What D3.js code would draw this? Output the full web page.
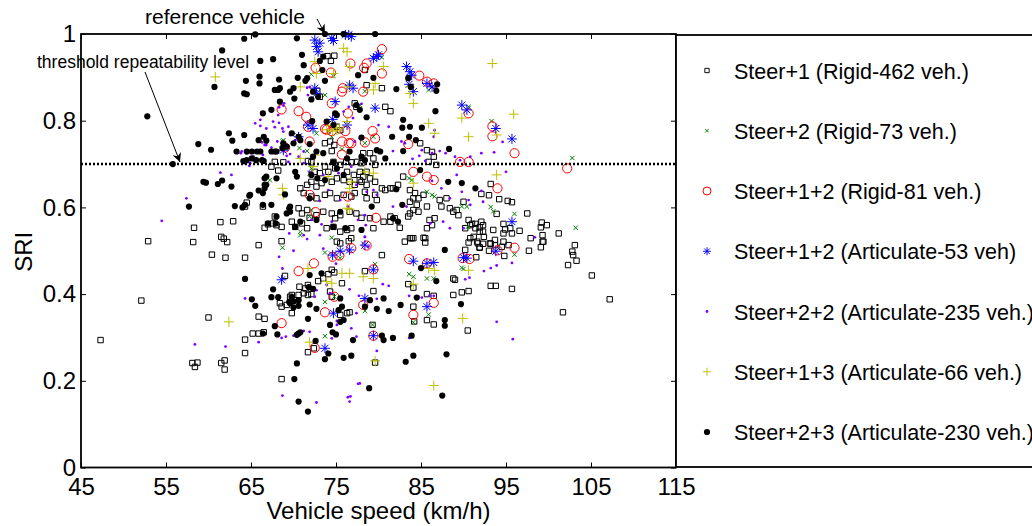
<!DOCTYPE html>
<html>
<head>
<meta charset="utf-8">
<script src="https://cdn.jsdelivr.net/npm/d3@7"></script>
<style>
  body { margin: 0; background: #fff; }
  svg { display: block; font-family: "Liberation Sans", Arial, sans-serif; }
  .axis text { font-size: 24px; fill: #000; }
  .axis line { stroke: #000; }
</style>
</head>
<body>
<div id="chart"></div>
<script>
// x ticks, y ticks
const xTicks = [45, 55, 65, 75, 85, 95, 105, 115];
const yTicks = [0, 0.2, 0.4, 0.6, 0.8, 1];
const threshold = 0.7;

const legendLabels = [
  'Steer+1 (Rigid-462 veh.)',
  'Steer+2 (Rigid-73 veh.)',
  'Steer+1+2 (Rigid-81 veh.)',
  'Steer+1+2 (Articulate-53 veh)',
  'Steer+2+2 (Articulate-235 veh.)',
  'Steer+1+3 (Articulate-66 veh.)',
  'Steer+2+3 (Articulate-230 veh.)'
];

// [speed km/h, SRI]
const steer1Rigid = [
  [47.3,0.294],[52.1,0.385],[52.9,0.522],[58.2,0.520],[58.3,0.553],[58.1,0.241],[58.4,0.232],[58.7,0.242],[60.0,0.346],[60.4,0.491],
  [61.4,0.566],[61.5,0.532],[61.8,0.528],[62.2,0.520],[62.0,0.484],[61.5,0.241],[61.9,0.247],[61.9,0.226],[62.9,0.568],[64.3,0.484],
  [64.3,0.295],[64.3,0.264],[64.5,0.611],[64.3,0.602],[65.2,0.309],[65.9,0.309],[66.5,0.312],[65.9,0.348],[66.6,0.343],[65.9,0.513],
  [66.4,0.602],[66.6,0.553],[67.0,0.561],[67.6,0.563],[68.0,0.559],[67.8,0.579],[68.6,0.555],[68.6,0.522],[67.4,0.694],[67.8,0.705],
  [68.2,0.685],[68.8,0.704],[68.6,0.204],[69.0,0.442],[68.4,0.379],[68.6,0.371],[69.2,0.375],[69.8,0.398],[69.6,0.394],[70.2,0.386],
  [69.8,0.356],[70.7,0.417],[71.4,0.413],[71.7,0.421],[72.1,0.400],[71.7,0.398],[71.2,0.402],[70.6,0.398],[71.7,0.266],[72.4,0.275],
  [72.9,0.430],[73.5,0.436],[74.1,0.446],[74.5,0.456],[74.8,0.450],[74.3,0.406],[74.5,0.394],[75.5,0.352],[76.3,0.356],[76.6,0.358],
  [75.7,0.425],[75.1,0.521],[75.5,0.517],[76.5,0.522],[76.8,0.529],[69.8,0.567],[70.2,0.555],[71.0,0.563],[71.6,0.552],[73.9,0.552],
  [74.7,0.555],[75.5,0.544],[76.3,0.548],[76.8,0.552],[70.6,0.598],[71.0,0.586],[71.6,0.594],[71.9,0.576],[72.7,0.582],[73.5,0.590],
  [74.5,0.586],[74.9,0.575],[75.5,0.582],[76.6,0.590],[77.4,0.586],[78.0,0.576],[71.2,0.633],[72.1,0.625],[72.7,0.621],[73.7,0.629],
  [74.3,0.633],[75.1,0.621],[75.9,0.629],[76.8,0.625],[77.2,0.633],[70.8,0.644],[71.6,0.652],[72.1,0.659],[72.7,0.648],[73.3,0.656],
  [74.5,0.659],[75.1,0.667],[75.9,0.663],[76.6,0.659],[77.2,0.652],[77.8,0.663],[72.5,0.682],[73.1,0.679],[74.1,0.682],[74.9,0.690],
  [76.3,0.682],[77.1,0.675],[77.8,0.682],[73.7,0.694],[74.7,0.705],[75.5,0.698],[76.2,0.705],[76.8,0.704],[77.5,0.705],[78.0,0.702],
  [71.7,0.707],[72.1,0.704],[73.7,0.748],[74.3,0.752],[74.8,0.744],[74.5,0.730],[75.1,0.786],[75.5,0.778],[77.2,0.840],[77.4,0.832],
  [72.8,0.869],[73.1,0.855],[74.0,0.949],[74.4,0.938],[74.8,0.950],[78.4,0.917],[78.6,0.882],[80.4,0.875],[80.8,0.832],[81.4,0.822],
  [78.2,0.725],[79.0,0.725],[79.4,0.713],[79.6,0.698],[78.6,0.682],[78.2,0.671],[79.0,0.667],[79.6,0.659],[78.0,0.659],[78.6,0.652],
  [80.4,0.644],[80.8,0.640],[81.4,0.644],[81.7,0.644],[82.3,0.652],[82.9,0.671],[83.7,0.640],[84.1,0.621],[78.4,0.636],[78.6,0.621],
  [79.8,0.617],[79.6,0.629],[84.3,0.633],[84.7,0.621],[85.3,0.629],[85.7,0.602],[84.5,0.606],[84.1,0.594],[84.7,0.590],[83.7,0.613],
  [87.4,0.602],[88.4,0.598],[89.2,0.594],[89.4,0.582],[88.8,0.590],[90.0,0.613],[87.2,0.617],[88.0,0.621],[84.9,0.748],[85.7,0.732],
  [86.3,0.728],[86.5,0.717],[85.9,0.705],[86.8,0.698],[83.7,0.586],[82.5,0.553],[81.4,0.579],[81.9,0.575],[81.4,0.567],[80.6,0.567],
  [79.0,0.575],[79.4,0.552],[83.5,0.579],[86.6,0.575],[86.0,0.571],[86.3,0.559],[85.7,0.552],[85.3,0.530],[83.9,0.529],[85.5,0.529],
  [90.6,0.571],[90.2,0.552],[91.4,0.552],[90.8,0.559],[91.9,0.544],[92.3,0.559],[83.1,0.521],[83.7,0.529],[84.1,0.529],[85.5,0.519],
  [90.8,0.529],[90.6,0.519],[91.7,0.517],[91.9,0.507],[80.4,0.490],[90.2,0.502],[78.4,0.453],[88.8,0.436],[83.5,0.423],[84.1,0.415],
  [79.4,0.407],[85.7,0.400],[86.5,0.396],[88.8,0.398],[89.8,0.404],[90.6,0.407],[84.1,0.371],[85.7,0.340],[86.5,0.330],[90.5,0.316],
  [79.3,0.329],[79.6,0.242],[84.2,0.337],[89.0,0.433],[93.2,0.654],[92.1,0.631],[94.2,0.619],[95.2,0.615],[95.7,0.612],[93.9,0.585],
  [97.5,0.586],[99.2,0.565],[99.8,0.559],[99.1,0.554],[96.6,0.546],[101.2,0.540],[99.3,0.536],[97.9,0.529],[99.3,0.521],[99.1,0.508],
  [103.1,0.513],[91.0,0.562],[91.4,0.562],[92.1,0.567],[91.9,0.554],[92.3,0.544],[92.4,0.532],[91.2,0.532],[91.6,0.521],[92.3,0.516],
  [93.1,0.517],[93.7,0.525],[93.5,0.548],[94.7,0.562],[94.9,0.549],[95.5,0.552],[95.7,0.540],[94.7,0.540],[94.7,0.521],[95.3,0.513],
  [93.7,0.513],[91.9,0.508],[93.2,0.516],[93.0,0.500],[94.5,0.509],[94.8,0.488],[97.7,0.500],[99.4,0.521],[102.8,0.498],[102.9,0.490],
  [103.3,0.477],[102.3,0.467],[105.1,0.443],[93.2,0.419],[93.8,0.419],[95.7,0.412],[107.2,0.388],[101.7,0.358],[91.5,0.485],[93.0,0.628]
];

const steer2Rigid = [
  [102.8,0.714],[103.2,0.553],[93.3,0.799],[90.6,0.832],[85.9,0.871],[86.3,0.878],[80.4,0.946],[78.4,0.868],[74.7,0.903],[72.1,0.907],
  [73.7,0.859],[74.1,0.775],[72.7,0.771],[68.8,0.755],[77.8,0.836],[72.1,0.690],[71.9,0.679],[67.2,0.663],[72.1,0.594],[71.9,0.579],
  [70.8,0.544],[74.5,0.763],[71.6,0.730],[75.7,0.734],[78.4,0.748],[79.4,0.763],[83.9,0.663],[85.7,0.636],[86.3,0.629],[86.6,0.625],
  [89.8,0.602],[90.4,0.602],[90.5,0.555],[93.2,0.601],[93.5,0.591],[96.0,0.585],[96.0,0.491],[68.7,0.507],[70.8,0.536],[73.7,0.496],
  [75.5,0.483],[74.5,0.530],[74.8,0.394],[73.7,0.382],[73.7,0.303],[79.6,0.469],[83.6,0.446],[84.1,0.440],[85.7,0.436],[86.5,0.436],
  [89.8,0.461],[78.4,0.361],[84.1,0.335],[79.3,0.329],[85.9,0.353],[83.6,0.667],[90.0,0.458],[70.7,0.737],[68.7,0.752]
];

const steer12Rigid = [
  [68.6,0.826],[70.6,0.822],[71.5,0.809],[71.7,0.786],[73.7,0.781],[71.9,0.752],[69.0,0.738],[72.6,0.922],[74.4,0.911],[76.7,0.932],
  [78.3,0.922],[75.8,0.875],[75.7,0.867],[74.5,0.840],[78.2,0.867],[76.4,0.817],[76.1,0.776],[75.7,0.752],[76.5,0.748],[76.8,0.748],
  [75.7,0.722],[71.9,0.629],[76.4,0.625],[72.6,0.589],[72.4,0.471],[70.6,0.453],[68.6,0.333],[73.7,0.358],[74.8,0.394],[72.5,0.276],
  [74.6,0.486],[75.4,0.489],[76.8,0.506],[78.6,0.512],[78.2,0.375],[83.6,0.481],[85.7,0.471],[89.9,0.483],[79.4,0.457],[86.5,0.380],
  [84.1,0.352],[79.4,0.304],[80.4,0.965],[78.6,0.932],[80.4,0.909],[84.8,0.904],[85.7,0.890],[86.5,0.886],[90.6,0.817],[79.3,0.776],
  [79.6,0.759],[78.4,0.750],[83.5,0.746],[89.6,0.705],[90.6,0.705],[84.1,0.682],[85.7,0.671],[86.5,0.663],[79.7,0.576],[93.4,0.787],
  [93.4,0.764],[94.0,0.644],[94.0,0.501],[96.0,0.725],[96.0,0.507],[102.2,0.690],[90.7,0.481],[73.9,0.779],[74.5,0.776]
];

const steer12Artic = [
  [72.5,0.986],[72.7,0.971],[72.9,0.959],[73.1,0.979],[74.5,0.990],[74.7,0.985],[76.1,0.998],[76.5,0.998],[76.8,0.994],[76.6,0.882],
  [77.0,0.875],[72.5,0.875],[72.7,0.863],[74.9,0.844],[71.7,0.790],[72.3,0.782],[70.6,0.763],[68.8,0.732],[76.3,0.790],[79.4,0.944],
  [79.8,0.948],[80.0,0.952],[83.3,0.925],[83.7,0.913],[83.9,0.905],[83.6,0.884],[84.1,0.867],[85.7,0.886],[86.3,0.878],[79.6,0.829],
  [89.8,0.836],[90.4,0.825],[68.6,0.433],[74.7,0.356],[73.7,0.275],[74.6,0.490],[75.5,0.499],[76.6,0.502],[78.4,0.513],[79.4,0.456],
  [84.1,0.476],[85.7,0.471],[86.5,0.473],[90.4,0.483],[90.0,0.484],[78.4,0.390],[85.7,0.371],[79.4,0.304],[93.8,0.782],[95.7,0.758],
  [95.7,0.567],[93.8,0.499],[74.6,0.803]
];

const steer22Artic = [
  [54.5,0.569],[57.4,0.621],[59.8,0.657],[61.4,0.680],[62.7,0.675],[63.8,0.725],[64.8,0.696],[65.3,0.717],[66.4,0.721],[66.8,0.744],
  [67.4,0.738],[68.9,0.840],[68.3,0.831],[68.3,0.795],[68.7,0.782],[69.4,0.786],[66.1,0.788],[66.8,0.782],[67.8,0.785],[64.2,0.702],
  [64.9,0.702],[68.3,0.486],[68.7,0.459],[64.3,0.390],[68.6,0.299],[69.1,0.302],[58.4,0.284],[62.0,0.279],[65.9,0.289],[68.7,0.166],
  [71.6,0.527],[72.7,0.409],[72.5,0.394],[73.9,0.421],[74.3,0.402],[76.6,0.411],[77.7,0.396],[75.1,0.338],[75.1,0.329],[74.9,0.307],
  [70.0,0.304],[71.2,0.315],[71.9,0.313],[72.7,0.150],[77.6,0.193],[76.4,0.162],[76.6,0.152],[77.4,0.302],[76.8,0.321],[74.5,0.298],
  [77.4,0.356],[78.4,0.532],[78.8,0.509],[80.5,0.423],[81.2,0.419],[79.8,0.389],[83.6,0.396],[84.7,0.394],[85.1,0.392],[86.0,0.396],
  [86.5,0.396],[83.6,0.299],[79.8,0.269],[90.2,0.434],[90.7,0.438],[92.4,0.453],[77.8,0.194],[68.8,0.835],[68.2,0.813],[65.5,0.794],
  [66.1,0.802],[68.8,0.775],[69.6,0.767],[70.2,0.755],[71.6,0.876],[71.9,0.878],[67.6,0.798],[68.1,0.752],[66.3,0.750],[66.6,0.744],
  [63.9,0.729],[64.5,0.725],[69.2,0.719],[69.6,0.723],[70.6,0.717],[71.2,0.729],[69.4,0.705],[71.2,0.702],[71.7,0.859],[72.1,0.848],
  [71.4,0.890],[75.9,0.821],[76.5,0.832],[77.0,0.806],[77.2,0.752],[77.8,0.759],[71.9,0.682],[73.5,0.675],[75.3,0.679],[76.8,0.694],
  [74.1,0.640],[77.4,0.652],[73.1,0.615],[75.5,0.617],[76.4,0.602],[72.1,0.571],[73.3,0.561],[74.5,0.567],[77.6,0.571],[71.2,0.536],
  [73.1,0.536],[78.0,0.839],[81.2,0.786],[80.0,0.790],[86.6,0.778],[86.5,0.763],[82.7,0.752],[83.1,0.748],[81.7,0.730],[85.1,0.732],
  [86.3,0.725],[87.2,0.730],[87.9,0.725],[89.0,0.717],[89.6,0.709],[90.8,0.717],[84.8,0.719],[84.0,0.712],[85.5,0.707],[92.1,0.725],
  [86.3,0.661],[87.4,0.644],[88.4,0.621],[89.2,0.675],[89.8,0.636],[90.6,0.617],[90.8,0.606],[92.1,0.638],[78.6,0.636],[79.4,0.640],
  [79.8,0.629],[78.4,0.582],[78.5,0.559],[81.7,0.602],[83.3,0.602],[86.1,0.563],[87.6,0.567],[88.4,0.552],[90.0,0.552],[78.4,0.532],
  [93.6,0.727],[94.6,0.751],[95.0,0.682],[92.3,0.613],[98.4,0.531],[93.2,0.460],[93.9,0.466],[95.7,0.472],[93.9,0.336],[95.8,0.296],
  [83.7,0.300],[76.7,0.164],[70.0,0.500],[69.5,0.540],[73.5,0.505],[75.0,0.470]
];

const steer13Artic = [
  [60.8,0.901],[62.4,0.336],[93.4,0.932],[95.9,0.815],[90.6,0.763],[93.9,0.767],[93.9,0.675],[90.6,0.455],[89.9,0.344],[86.5,0.189],
  [79.6,0.246],[71.9,0.289],[68.7,0.644],[68.8,0.629],[75.9,0.967],[76.3,0.959],[72.5,0.936],[72.7,0.909],[70.8,0.878],[76.6,0.925],
  [74.7,0.909],[76.4,0.878],[74.5,0.790],[75.1,0.778],[76.3,0.798],[70.8,0.713],[72.3,0.694],[76.8,0.659],[76.6,0.644],[76.3,0.598],
  [76.6,0.596],[72.5,0.721],[74.1,0.671],[80.6,0.925],[79.6,0.886],[79.4,0.871],[83.7,0.863],[84.1,0.840],[85.9,0.794],[86.6,0.771],
  [89.8,0.806],[78.4,0.682],[79.4,0.679],[84.1,0.656],[71.7,0.459],[73.9,0.429],[74.5,0.425],[75.7,0.448],[76.6,0.448],[78.2,0.440],
  [79.4,0.436],[85.9,0.459],[86.6,0.455],[84.1,0.423],[73.9,0.779],[74.6,0.776],[75.4,0.783],[83.7,0.878]
];

const steer23Artic = [
  [52.8,0.810],[55.8,0.700],[57.7,0.602],[58.8,0.746],[59.4,0.659],[59.7,0.657],[60.3,0.733],[60.7,0.878],[61.6,0.962],[61.1,0.654],
  [61.6,0.662],[62.4,0.771],[62.8,0.754],[62.7,0.648],[63.1,0.603],[64.0,0.600],[63.3,0.729],[64.2,0.767],[64.2,0.863],[64.2,0.989],
  [64.4,0.892],[64.5,0.861],[65.5,0.999],[66.1,0.938],[66.0,0.886],[66.0,0.902],[66.4,0.817],[67.4,0.825],[66.5,0.763],[66.8,0.754],
  [65.9,0.755],[64.5,0.729],[65.1,0.729],[65.7,0.729],[66.1,0.729],[67.4,0.729],[67.8,0.729],[68.0,0.729],[66.3,0.709],[65.6,0.709],
  [65.1,0.713],[64.5,0.709],[64.1,0.707],[66.5,0.707],[64.8,0.627],[65.9,0.639],[66.4,0.633],[66.6,0.652],[66.8,0.671],[67.4,0.606],
  [66.4,0.606],[68.0,0.579],[67.0,0.563],[67.9,0.563],[67.6,0.942],[67.8,0.871],[68.2,0.871],[68.4,0.875],[68.3,0.895],[68.4,0.844],
  [68.7,0.737],[68.8,0.748],[69.2,0.740],[69.8,0.771],[70.0,0.748],[70.6,0.763],[70.8,0.755],[70.0,0.875],[69.6,0.867],[70.1,0.851],
  [70.5,0.899],[71.0,0.952],[71.2,0.928],[71.6,0.898],[71.4,0.892],[72.3,0.867],[72.9,0.855],[72.1,0.849],[72.2,0.799],[71.9,0.746],
  [73.1,0.938],[73.5,0.948],[73.4,0.917],[73.7,0.892],[70.4,0.990],[73.7,1.000],[75.9,1.000],[79.6,1.000],[75.1,0.813],[74.7,0.790],
  [73.9,0.798],[74.9,0.817],[76.3,0.713],[76.6,0.729],[74.7,0.704],[72.3,0.717],[72.7,0.729],[73.5,0.725],[77.6,0.905],[77.4,0.836],
  [77.8,0.825],[70.2,0.682],[70.4,0.671],[72.1,0.675],[72.8,0.667],[73.7,0.663],[68.0,0.667],[66.6,0.667],[66.8,0.652],[66.6,0.644],
  [64.9,0.629],[64.3,0.606],[69.6,0.602],[71.9,0.621],[69.6,0.590],[70.8,0.567],[72.7,0.571],[75.5,0.590],[76.1,0.552],[74.7,0.555],
  [70.2,0.555],[75.9,0.675],[75.1,0.690],[69.0,0.630],[69.2,0.586],[69.5,0.598],
  [64.3,0.435],[67.6,0.411],[67.4,0.393],[68.2,0.393],[65.1,0.388],[65.5,0.373],[69.5,0.382],[69.8,0.393],[70.0,0.383],[69.6,0.379],
  [70.6,0.386],[70.6,0.373],[70.0,0.369],[71.9,0.376],[72.7,0.366],[71.7,0.343],[71.9,0.444],[73.3,0.448],[71.8,0.416],[72.3,0.412],
  [67.8,0.326],[68.1,0.307],[66.4,0.309],[70.6,0.309],[70.8,0.312],[70.4,0.306],[72.6,0.292],[74.1,0.263],[73.7,0.250],[70.4,0.240],
  [70.1,0.204],[70.6,0.152],[71.7,0.129],[74.3,0.329],[74.6,0.312],[75.0,0.307],[75.5,0.336],[75.9,0.340],[75.5,0.390],[75.7,0.371],
  [75.3,0.363],[75.9,0.253],[76.8,0.258],[77.0,0.294],[87.8,0.502],[85.0,0.460],[86.8,0.430],[84.5,0.392],[82.6,0.375],[81.2,0.361],
  [79.8,0.366],[80.6,0.390],[78.4,0.371],[80.4,0.304],[80.6,0.294],[81.7,0.299],[83.9,0.304],[84.1,0.258],[83.2,0.244],[88.0,0.261],
  [87.5,0.166],[78.9,0.183],[87.8,0.340],[87.8,0.327],[89.7,0.377],[79.0,0.386],
  [79.4,0.899],[82.1,0.873],[83.5,0.898],[83.8,0.878],[86.9,0.884],[86.8,0.869],[86.7,0.822],[78.6,0.808],[82.9,0.802],[82.8,0.784],
  [83.7,0.786],[85.1,0.784],[81.6,0.763],[83.6,0.763],[84.4,0.755],[82.9,0.730],[78.0,0.761],[88.3,0.735],[84.9,0.686],[89.8,0.656],
  [82.1,0.642],[88.2,0.659],[91.4,0.644],[79.2,0.602],[78.0,0.548],[81.7,0.575],[82.3,0.567],[82.8,0.606],[79.8,0.732],[80.2,0.729],
  [80.8,0.713],[78.4,0.709],[78.0,0.717]
];

// marker shapes, drawn at (0,0)
const markers = {
  square:   { d: 'M-2.7,-2.7h5.4v5.4h-5.4Z', fill: 'none', stroke: '#000' },
  cross:    { d: 'M-2.2,-2.2L2.2,2.2M-2.2,2.2L2.2,-2.2', fill: 'none', stroke: '#008000' },
  circle:   { r: 4.6, fill: 'none', stroke: '#ff0000' },
  asterisk: { d: 'M-5,0H5M0,-5V5M-3.5,-3.5L3.5,3.5M-3.5,3.5L3.5,-3.5', fill: 'none', stroke: '#0000ff' },
  point:    { r: 1.4, fill: '#7f00ff', stroke: 'none' },
  plus:     { d: 'M-5,0H5M0,-5V5', fill: 'none', stroke: '#bfbf00' },
  dot:      { r: 3.1, fill: '#000', stroke: 'none' }
};

const series = [
  { data: steer1Rigid,  marker: 'square' },
  { data: steer2Rigid,  marker: 'cross' },
  { data: steer12Rigid, marker: 'circle' },
  { data: steer12Artic, marker: 'asterisk' },
  { data: steer22Artic, marker: 'point' },
  { data: steer13Artic, marker: 'plus' },
  { data: steer23Artic, marker: 'dot' }
];

const W = 1032, H = 526;
const plot = { left: 81, right: 676, top: 34, bottom: 467.5 };

const svg = d3.select('#chart').append('svg').attr('width', W).attr('height', H);

svg.append('defs').append('marker')
    .attr('id', 'arrow')
    .attr('viewBox', '0 0 10 10')
    .attr('refX', 10).attr('refY', 5)
    .attr('markerWidth', 11).attr('markerHeight', 9)
    .attr('markerUnits', 'userSpaceOnUse')
    .attr('orient', 'auto')
  .append('path')
    .attr('d', 'M0,0L10,5L0,10L3,5Z')
    .attr('fill', '#000');

const x = d3.scaleLinear().domain([45, 115]).range([plot.left, plot.right]);
const y = d3.scaleLinear().domain([0, 1]).range([plot.bottom, plot.top]);

// axes with inward ticks
const xAxis = svg.append('g').attr('class', 'axis')
  .attr('transform', `translate(0,${plot.bottom})`)
  .call(d3.axisBottom(x).tickValues(xTicks).tickSize(-5).tickPadding(10).tickFormat(d3.format('d')));
xAxis.select('.domain').remove();

const yAxis = svg.append('g').attr('class', 'axis')
  .attr('transform', `translate(${plot.left},0)`)
  .call(d3.axisLeft(y).tickValues(yTicks).tickSize(-5).tickPadding(5).tickFormat(d => d3.format('~g')(d)));
yAxis.select('.domain').remove();

svg.append('g').attr('class', 'axis')
  .attr('transform', `translate(0,${plot.top})`)
  .call(d3.axisTop(x).tickValues(xTicks).tickSize(-5).tickFormat(''))
  .select('.domain').remove();

svg.append('g').attr('class', 'axis')
  .attr('transform', `translate(${plot.right},0)`)
  .call(d3.axisRight(y).tickValues(yTicks).tickSize(-5).tickFormat(''))
  .select('.domain').remove();

// points
series.forEach(s => {
  const m = markers[s.marker];
  const g = svg.append('g');
  if (m.r) {
    g.selectAll('circle').data(s.data).join('circle')
      .attr('cx', d => x(d[0])).attr('cy', d => y(d[1]))
      .attr('r', m.r).attr('fill', m.fill).attr('stroke', m.stroke).attr('stroke-width', 1);
  } else {
    g.selectAll('path').data(s.data).join('path')
      .attr('transform', d => `translate(${x(d[0])},${y(d[1])})`)
      .attr('d', m.d).attr('fill', m.fill).attr('stroke', m.stroke).attr('stroke-width', 1);
  }
});

// threshold line
svg.append('line')
  .attr('x1', plot.left).attr('x2', plot.right)
  .attr('y1', y(threshold)).attr('y2', y(threshold))
  .attr('stroke', '#000').attr('stroke-width', 2.4).attr('stroke-dasharray', '2,2');

// frame
svg.append('rect')
  .attr('x', plot.left).attr('y', plot.top)
  .attr('width', plot.right - plot.left).attr('height', plot.bottom - plot.top)
  .attr('fill', 'none').attr('stroke', '#000').attr('stroke-width', 1.8);

// axis labels
svg.append('text')
  .attr('x', (plot.left + plot.right) / 2).attr('y', 519)
  .attr('text-anchor', 'middle').attr('font-size', 24)
  .text('Vehicle speed (km/h)');

svg.append('text')
  .attr('transform', `translate(32,${(plot.top + plot.bottom) / 2 + 1}) rotate(-90)`)
  .attr('text-anchor', 'middle').attr('font-size', 24)
  .text('SRI');

// annotations
svg.append('text')
  .attr('x', 145).attr('y', 24).attr('font-size', 21)
  .text('reference vehicle');
svg.append('line')
  .attr('x1', 317).attr('y1', 19).attr('x2', x(73.7)).attr('y2', y(1) - 0.5)
  .attr('stroke', '#000').attr('stroke-width', 1).attr('marker-end', 'url(#arrow)');

svg.append('text')
  .attr('x', 37).attr('y', 68).attr('font-size', 17.5)
  .text('threshold repeatability level');
svg.append('line')
  .attr('x1', 145).attr('y1', 72).attr('x2', 180).attr('y2', y(threshold) - 2)
  .attr('stroke', '#000').attr('stroke-width', 1).attr('marker-end', 'url(#arrow)');

// legend
const legend = svg.append('g');
legend.append('rect')
  .attr('x', plot.right).attr('y', 35)
  .attr('width', 400).attr('height', 432)
  .attr('fill', '#fff').attr('stroke', '#000').attr('stroke-width', 1.8);

const legendY = d3.scalePoint().domain(d3.range(legendLabels.length)).range([70.5, 432]);

legendLabels.forEach((label, i) => {
  const m = markers[series[i].marker];
  const cy = legendY(i);
  if (m.r) {
    legend.append('circle').attr('cx', 707).attr('cy', cy)
      .attr('r', m.r === 4.6 ? 4 : m.r).attr('fill', m.fill).attr('stroke', m.stroke);
  } else {
    legend.append('path').attr('transform', `translate(707,${cy}) scale(0.8)`)
      .attr('d', m.d).attr('fill', m.fill).attr('stroke', m.stroke).attr('stroke-width', 1.2);
  }
  legend.append('text')
    .attr('x', 734).attr('y', cy + 8).attr('font-size', 21.5)
    .text(label);
});
</script>
</body>
</html>
